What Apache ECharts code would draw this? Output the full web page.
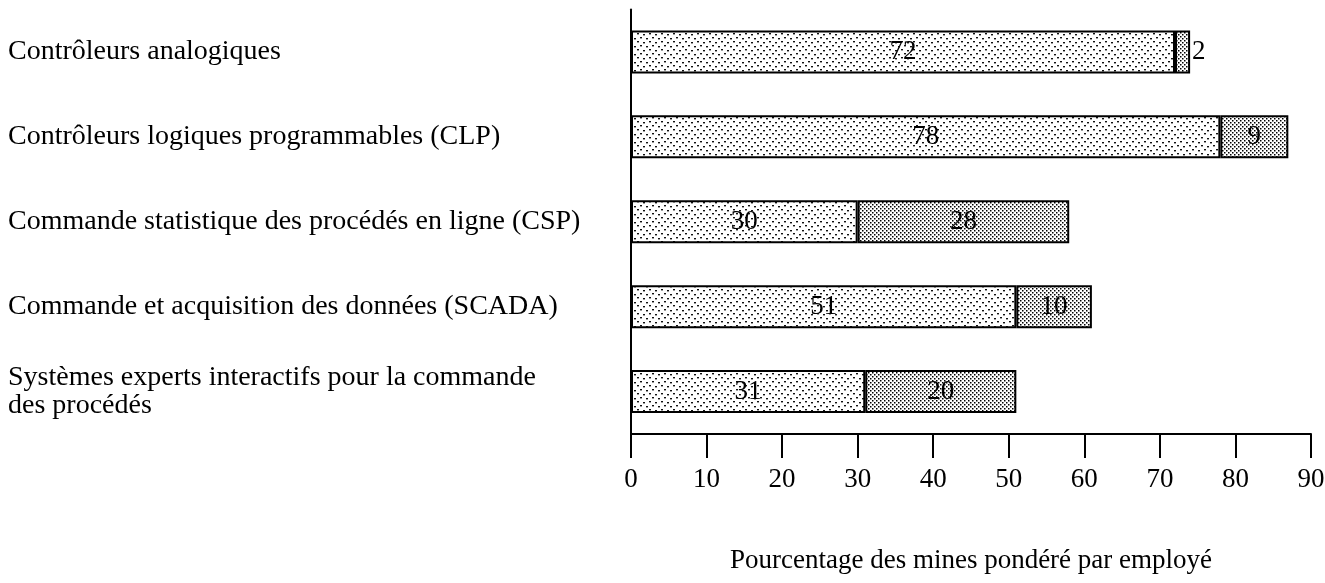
<!DOCTYPE html>
<html>
<head>
<meta charset="utf-8">
<script src="https://cdn.jsdelivr.net/npm/echarts@6/dist/echarts.min.js"></script>
<style>
	html, body { margin: 0; padding: 0; background: #fff; }
	#chart { width: 1325px; height: 583px; }
</style>
</head>
<body>
<div id="chart"></div>
<script>
// categories, top to bottom
const categories = [
	'Contrôleurs analogiques',
	'Contrôleurs logiques programmables (CLP)',
	'Commande statistique des procédés en ligne (CSP)',
	'Commande et acquisition des données (SCADA)',
	'Systèmes experts interactifs pour la commande\ndes procédés'
]
// first segment (light stipple) and second segment (dense stipple)
const firstValues = [72, 78, 30, 51, 31]
const secondValues = [2, 9, 28, 10, 20]
const axisTitle = 'Pourcentage des mines pondéré par employé'

const FONT = '"Liberation Serif", "DejaVu Serif", serif'

// light, sparse dot texture
function sparsePattern() {
	const c = document.createElement('canvas')
	c.width = 12
	c.height = 8
	const ctx = c.getContext('2d')
	ctx.fillStyle = '#fff'
	ctx.fillRect(0, 0, 12, 8)
	ctx.fillStyle = '#111'
	const dots = [[1, 1], [7, 2], [4, 5], [10, 6]]
	dots.forEach(d => ctx.fillRect(d[0], d[1], 2, 1.4))
	return c
}

// fine, dense dot texture (diagonal lattice)
function densePattern() {
	const c = document.createElement('canvas')
	c.width = 4
	c.height = 4
	const ctx = c.getContext('2d')
	ctx.fillStyle = '#fff'
	ctx.fillRect(0, 0, 4, 4)
	ctx.fillStyle = '#000'
	ctx.fillRect(0, 0, 1.5, 1.5)
	ctx.fillRect(2, 2, 1.5, 1.5)
	return c
}

const chart = echarts.init(document.getElementById('chart'), null, { renderer: 'canvas' })

const labelStyle = {
	show: true,
	position: 'inside',
	color: '#000',
	fontFamily: FONT,
	fontSize: 27
}

const option = {
	animation: false,
	backgroundColor: '#fff',
	grid: {
		left: 631,
		right: 14,
		top: 9.5,
		bottom: 149,
		containLabel: false,
		outerBoundsMode: 'none'
	},
	xAxis: {
		type: 'value',
		min: 0,
		max: 90,
		interval: 10,
		axisLine: { show: true, lineStyle: { color: '#000', width: 2 } },
		axisTick: { show: true, length: 24, lineStyle: { color: '#000', width: 2 } },
		splitLine: { show: false },
		axisLabel: {
			color: '#000',
			fontFamily: FONT,
			fontSize: 27,
			margin: 32
		},
		name: axisTitle,
		nameLocation: 'middle',
		nameGap: 113,
		nameTextStyle: {
			color: '#000',
			fontFamily: FONT,
			fontSize: 27
		}
	},
	yAxis: {
		type: 'category',
		inverse: true,
		data: categories,
		axisLine: { show: true, lineStyle: { color: '#000', width: 2 } },
		axisTick: { show: false },
		splitLine: { show: false },
		axisLabel: {
			color: '#000',
			fontFamily: FONT,
			fontSize: 28,
			lineHeight: 28,
			align: 'left',
			margin: 623
		}
	},
	series: [
		{
			type: 'bar',
			stack: 'total',
			barWidth: 43,
			data: firstValues,
			itemStyle: {
				color: { image: sparsePattern(), repeat: 'repeat' },
				borderColor: '#000',
				borderWidth: 2
			},
			label: labelStyle
		},
		{
			type: 'bar',
			stack: 'total',
			barWidth: 43,
			// very short segments carry their label outside, to the right
			data: secondValues.map(v => (v < 5 ? { value: v, label: { position: 'right', distance: 2 } } : v)),
			itemStyle: {
				color: { image: densePattern(), repeat: 'repeat' },
				borderColor: '#000',
				borderWidth: 2
			},
			label: labelStyle
		}
	]
}

chart.setOption(option)
</script>
</body>
</html>
